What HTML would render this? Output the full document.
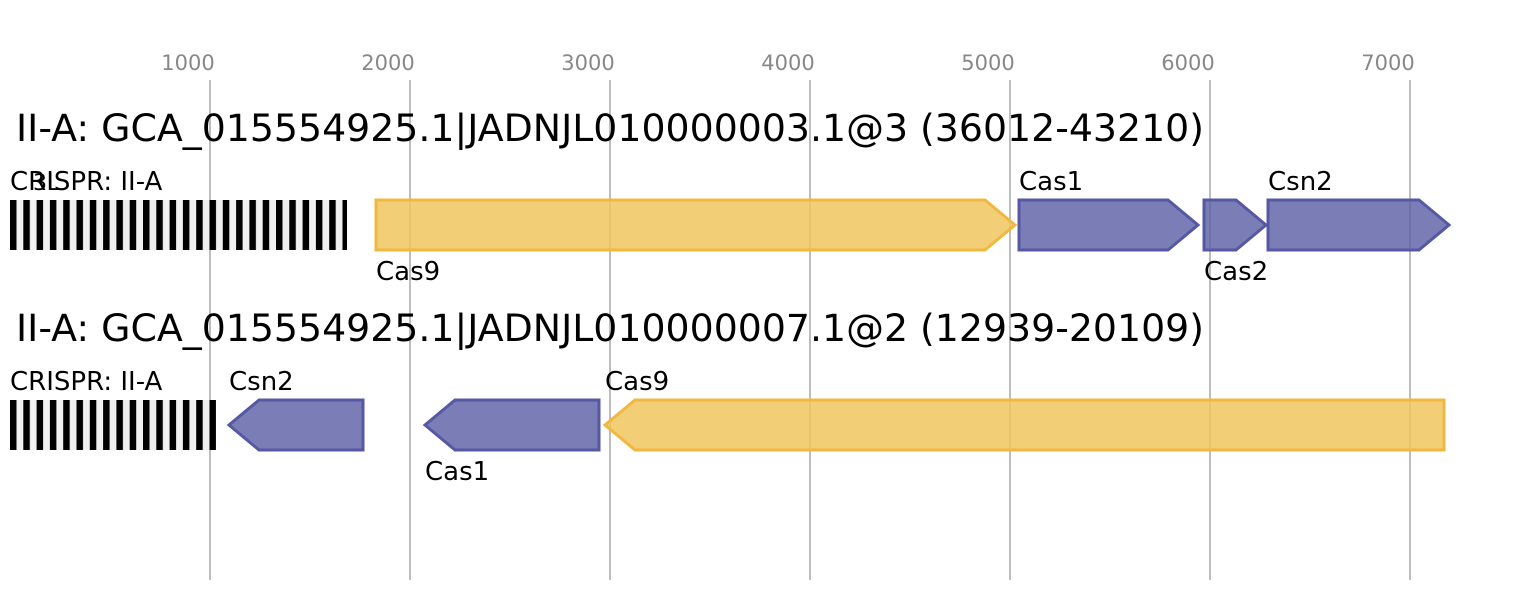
<!DOCTYPE html>
<html><head><meta charset="utf-8"><style>
html,body{margin:0;padding:0;background:#fff;}
svg{display:block;font-family:"DejaVu Sans","Liberation Sans",sans-serif;}
</style></head><body>
<svg width="1540" height="600" viewBox="0 0 1540 600" xmlns="http://www.w3.org/2000/svg">
<defs>
<pattern id="cr" x="10" y="0" width="13.3" height="50" patternUnits="userSpaceOnUse">
<rect x="0" y="0" width="13.3" height="50" fill="#f0f0f0"/>
<rect x="0" y="0" width="6.5" height="50" fill="#000"/>
</pattern>
</defs>
<g stroke="#bdbdbd" stroke-width="2">
<line x1="210" y1="80" x2="210" y2="580"/><line x1="410" y1="80" x2="410" y2="580"/>
<line x1="610" y1="80" x2="610" y2="580"/><line x1="810" y1="80" x2="810" y2="580"/>
<line x1="1010" y1="80" x2="1010" y2="580"/><line x1="1210" y1="80" x2="1210" y2="580"/>
<line x1="1410" y1="80" x2="1410" y2="580"/>
</g>
<g fill="#888" font-size="21" text-anchor="middle">
<text x="188" y="70">1000</text><text x="388" y="70">2000</text><text x="588" y="70">3000</text>
<text x="788" y="70">4000</text><text x="988" y="70">5000</text><text x="1188" y="70">6000</text>
<text x="1388" y="70">7000</text>
</g>
<g font-size="37.5" fill="#000">
<text x="16" y="141" textLength="1188" lengthAdjust="spacingAndGlyphs">II-A: GCA_015554925.1|JADNJL010000003.1@3 (36012-43210)</text>
<text x="16" y="341" textLength="1188" lengthAdjust="spacingAndGlyphs">II-A: GCA_015554925.1|JADNJL010000007.1@2 (12939-20109)</text>
</g>
<rect x="10" y="200" width="337" height="50" fill="url(#cr)"/>
<rect x="10" y="400" width="206" height="50" fill="url(#cr)"/>
<g stroke-width="3" stroke-linejoin="miter">
<polygon points="376,200 985,200 1015,225 985,250 376,250" fill="#f0c55f" fill-opacity="0.85" stroke="#f0b840"/>
<polygon points="1019,200 1168,200 1198,225 1168,250 1019,250" fill="#5a5ca5" fill-opacity="0.8" stroke="#5558a3"/>
<polygon points="1204,200 1236,200 1266,225 1236,250 1204,250" fill="#5a5ca5" fill-opacity="0.8" stroke="#5558a3"/>
<polygon points="1268,200 1419,200 1449,225 1419,250 1268,250" fill="#5a5ca5" fill-opacity="0.8" stroke="#5558a3"/>
<polygon points="363,400 259,400 229,425 259,450 363,450" fill="#5a5ca5" fill-opacity="0.8" stroke="#5558a3"/>
<polygon points="599,400 455,400 425,425 455,450 599,450" fill="#5a5ca5" fill-opacity="0.8" stroke="#5558a3"/>
<polygon points="1444,400 635,400 605,425 635,450 1444,450" fill="#f0c55f" fill-opacity="0.85" stroke="#f0b840"/>
</g>
<g font-size="26" fill="#000">
<text x="10" y="190">CRISPR: II-A</text>
<text x="33" y="190" font-size="22">3L</text>
<text x="1019" y="190">Cas1</text>
<text x="1268" y="190">Csn2</text>
<text x="376" y="280">Cas9</text>
<text x="1204" y="280">Cas2</text>
<text x="10" y="390">CRISPR: II-A</text>
<text x="229" y="390">Csn2</text>
<text x="605" y="390">Cas9</text>
<text x="425" y="480">Cas1</text>
</g>
</svg>
</body></html>
